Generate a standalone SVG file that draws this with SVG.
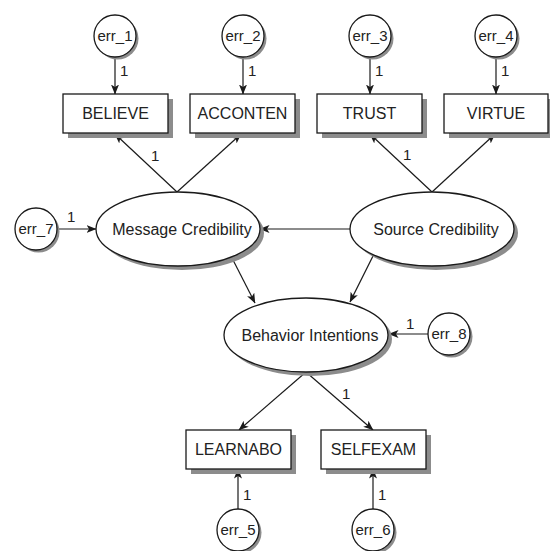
<svg xmlns="http://www.w3.org/2000/svg" width="550" height="551" viewBox="0 0 550 551">
  <style>
    .shadow { fill: #8c8c8c; stroke: none; }
    .box { fill: #ffffff; stroke: #1a1a1a; stroke-width: 1.3; }
    .lbl { font-family: "Liberation Sans", Arial, sans-serif; font-size: 16px; fill: #222; text-anchor: middle; }
    .err { font-family: "Liberation Sans", Arial, sans-serif; font-size: 15px; fill: #222; text-anchor: middle; }
    .one { font-family: "Liberation Sans", Arial, sans-serif; font-size: 15px; fill: #222; }
    .edge { stroke: #1a1a1a; stroke-width: 1.2; fill: none; marker-end: url(#arrow); }
  </style>
  <defs>
    <marker id="arrow" viewBox="0 0 10 8" refX="9.5" refY="4" markerWidth="10" markerHeight="8" markerUnits="userSpaceOnUse" orient="auto">
      <path d="M0,0 L10,4 L0,8 L2.5,4 z" fill="#1a1a1a"/>
    </marker>
  </defs>
  <rect width="550" height="551" fill="#ffffff"/>

  <!-- connectors -->
  <g id="connectors">
    <line class="edge" x1="115" y1="57" x2="115" y2="94"/>
    <line class="edge" x1="243" y1="57" x2="243" y2="94"/>
    <line class="edge" x1="370" y1="57" x2="370" y2="94"/>
    <line class="edge" x1="496" y1="57" x2="496" y2="94"/>
    <line class="edge" x1="177" y1="192" x2="115" y2="134"/>
    <line class="edge" x1="177" y1="192" x2="241" y2="134"/>
    <line class="edge" x1="432" y1="192" x2="370" y2="134"/>
    <line class="edge" x1="432" y1="192" x2="495" y2="134"/>
    <line class="edge" x1="57" y1="229" x2="96" y2="229"/>
    <line class="edge" x1="350" y1="229" x2="260" y2="229"/>
    <line class="edge" x1="232" y1="258" x2="255" y2="303"/>
    <line class="edge" x1="373" y1="256" x2="350" y2="302"/>
    <line class="edge" x1="428" y1="334" x2="389" y2="334"/>
    <line class="edge" x1="306" y1="372" x2="239" y2="430"/>
    <line class="edge" x1="306" y1="372" x2="373" y2="430"/>
    <line class="edge" x1="238" y1="509" x2="238" y2="469"/>
    <line class="edge" x1="373" y1="509" x2="373" y2="469"/>
    <text class="one" x="120" y="76">1</text>
    <text class="one" x="248" y="76">1</text>
    <text class="one" x="375" y="76">1</text>
    <text class="one" x="501" y="76">1</text>
    <text class="one" x="151" y="161">1</text>
    <text class="one" x="403" y="160">1</text>
    <text class="one" x="67" y="222">1</text>
    <text class="one" x="406" y="329">1</text>
    <text class="one" x="342" y="399">1</text>
    <text class="one" x="243" y="500">1</text>
    <text class="one" x="378" y="500">1</text>
  </g>

  <!-- observed variables -->
  <g id="believe">
    <rect class="shadow" x="68" y="99" width="105" height="39"/>
    <rect class="box" x="63" y="94" width="105" height="39"/>
    <text class="lbl" x="115.5" y="119">BELIEVE</text>
  </g>
  <g id="acconten">
    <rect class="shadow" x="195" y="99" width="105" height="39"/>
    <rect class="box" x="190" y="94" width="105" height="39"/>
    <text class="lbl" x="242.5" y="119">ACCONTEN</text>
  </g>
  <g id="trust">
    <rect class="shadow" x="322" y="99" width="105" height="39"/>
    <rect class="box" x="317" y="94" width="105" height="39"/>
    <text class="lbl" x="369.5" y="119">TRUST</text>
  </g>
  <g id="virtue">
    <rect class="shadow" x="449" y="99" width="105" height="39"/>
    <rect class="box" x="444" y="94" width="104" height="39"/>
    <text class="lbl" x="496" y="119">VIRTUE</text>
  </g>
  <g id="learnabo">
    <rect class="shadow" x="191" y="435" width="105" height="39"/>
    <rect class="box" x="186" y="430" width="105" height="39"/>
    <text class="lbl" x="238.5" y="455">LEARNABO</text>
  </g>
  <g id="selfexam">
    <rect class="shadow" x="326" y="435" width="105" height="39"/>
    <rect class="box" x="321" y="430" width="105" height="39"/>
    <text class="lbl" x="373.5" y="455">SELFEXAM</text>
  </g>

  <!-- latent variables -->
  <g id="message-credibility">
    <ellipse class="shadow" cx="182" cy="233" rx="82" ry="37"/>
    <ellipse class="box" cx="178" cy="229" rx="82" ry="37"/>
    <text class="lbl" x="182" y="235">Message Credibility</text>
  </g>
  <g id="source-credibility">
    <ellipse class="shadow" cx="436" cy="233" rx="82" ry="37"/>
    <ellipse class="box" cx="432" cy="229" rx="82" ry="37"/>
    <text class="lbl" x="436" y="235">Source Credibility</text>
  </g>
  <g id="behavior-intentions">
    <ellipse class="shadow" cx="310" cy="339" rx="82" ry="37"/>
    <ellipse class="box" cx="306" cy="335" rx="82" ry="37"/>
    <text class="lbl" x="310" y="341">Behavior Intentions</text>
  </g>

  <!-- error terms -->
  <g id="err_1">
    <circle class="shadow" cx="117.5" cy="38.5" r="21"/>
    <circle class="box" cx="115" cy="36" r="21"/>
    <text class="err" x="115" y="41">err_1</text>
  </g>
  <g id="err_2">
    <circle class="shadow" cx="245.5" cy="38.5" r="21"/>
    <circle class="box" cx="243" cy="36" r="21"/>
    <text class="err" x="243" y="41">err_2</text>
  </g>
  <g id="err_3">
    <circle class="shadow" cx="372.5" cy="38.5" r="21"/>
    <circle class="box" cx="370" cy="36" r="21"/>
    <text class="err" x="370" y="41">err_3</text>
  </g>
  <g id="err_4">
    <circle class="shadow" cx="498.5" cy="38.5" r="21"/>
    <circle class="box" cx="496" cy="36" r="21"/>
    <text class="err" x="496" y="41">err_4</text>
  </g>
  <g id="err_7">
    <circle class="shadow" cx="38.5" cy="231.5" r="21"/>
    <circle class="box" cx="36" cy="229" r="21"/>
    <text class="err" x="36" y="234">err_7</text>
  </g>
  <g id="err_8">
    <circle class="shadow" cx="451.5" cy="336.5" r="21"/>
    <circle class="box" cx="449" cy="334" r="21"/>
    <text class="err" x="449" y="339">err_8</text>
  </g>
  <g id="err_5">
    <circle class="shadow" cx="240.5" cy="532.5" r="21"/>
    <circle class="box" cx="238" cy="530" r="21"/>
    <text class="err" x="238" y="535">err_5</text>
  </g>
  <g id="err_6">
    <circle class="shadow" cx="375.5" cy="532.5" r="21"/>
    <circle class="box" cx="373" cy="530" r="21"/>
    <text class="err" x="373" y="535">err_6</text>
  </g>
</svg>
